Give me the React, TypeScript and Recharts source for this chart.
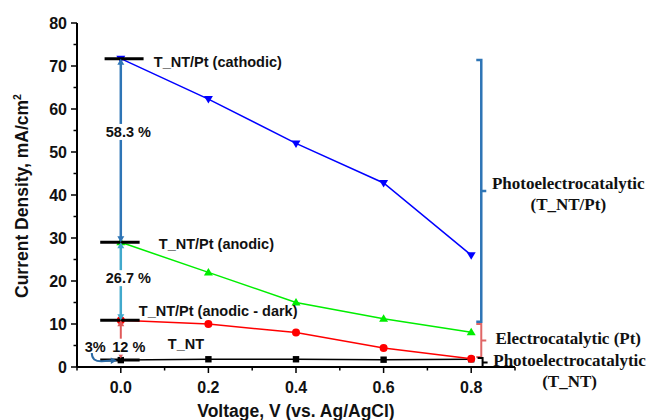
import React from 'react';
import { LineChart, Line, XAxis, YAxis, ReferenceLine, ReferenceDot, Label } from 'recharts';

// ---------- data ----------
const voltages = [0, 0.2, 0.4, 0.6, 0.8];
const cathodic = [71.7, 62.3, 52.0, 42.8, 26.0];
const anodic = [29.0, 22.0, 15.0, 11.2, 8.1];
const anodicDark = [10.9, 10.0, 8.0, 4.4, 1.9];
const tnt = [1.6, 1.8, 1.8, 1.7, 1.8];

const xTicks = [-0.1, 0, 0.1, 0.2, 0.3, 0.4, 0.5, 0.6, 0.7, 0.8, 0.9];
const xMajorTicks = [0, 0.2, 0.4, 0.6, 0.8];
const yTicks = [0, 5, 10, 15, 20, 25, 30, 35, 40, 45, 50, 55, 60, 65, 70, 75, 80];
const yMajorTicks = [0, 10, 20, 30, 40, 50, 60, 70, 80];

// annotation levels at V = 0.0
const levelCathodic = 71.7;
const levelAnodic = 29.0;
const levelDark = 10.9;
const levelTnt = 1.6;
const seriesLabels = ['T_NT/Pt (cathodic)', 'T_NT/Pt (anodic)', 'T_NT/Pt (anodic - dark)', 'T_NT'];
const percentLabels = ['58.3 %', '26.7 %', '12 %', '3%'];
const percentLevels = [53.5, 19.5, 3.56, 3.56];

// braces on the right
const braceX = 0.823;
const braceBlue = [71.4, 10.5];
const braceRed = [10.0, 2.3];
const braceBlack = [2.1, 0];
const braceTextBlue = ['Photoelectrocatalytic', '(T_NT/Pt)'];
const braceTextRed = ['Electrocatalytic (Pt)'];
const braceTextBlack = ['Photoelectrocatalytic', '(T_NT)'];

const rows = voltages.map((v, i) => ({
  v,
  cathodic: cathodic[i],
  anodic: anodic[i],
  dark: anodicDark[i],
  tnt: tnt[i],
}));

const SANS = 'Liberation Sans, Arial, sans-serif';
const SERIF = 'Liberation Serif, Times New Roman, serif';
const Z = 2000;

const isIn = (arr: number[], v: number) => arr.some((m) => Math.abs(m - v) < 1e-6);

const XTick = (p: any) => {
  const v = p.payload.value;
  const major = isIn(xMajorTicks, v);
  return (
    <g>
      <line x1={p.x} x2={p.x} y1={p.y} y2={p.y + (major ? 6 : 3.5)} stroke="#000" strokeWidth={1.5} />
      {major && (
        <text x={p.x} y={p.y + 26} textAnchor="middle" fontFamily={SANS} fontWeight="bold" fontSize={16} fill="#111">
          {v.toFixed(1)}
        </text>
      )}
    </g>
  );
};

const YTick = (p: any) => {
  const v = p.payload.value;
  const major = isIn(yMajorTicks, v);
  return (
    <g>
      <line x1={p.x} x2={p.x - (major ? 6 : 3.5)} y1={p.y} y2={p.y} stroke="#000" strokeWidth={1.5} />
      {major && (
        <text x={p.x - 10} y={p.y + 5.8} textAnchor="end" fontFamily={SANS} fontWeight="bold" fontSize={16} fill="#111">
          {v}
        </text>
      )}
    </g>
  );
};

const triDown = (color: string) => (p: any) => {
  const { cx, cy } = p;
  if (cx == null || cy == null) return <g key={p.index} />;
  return <path key={p.index} d={`M${cx - 4.5},${cy - 3} L${cx + 4.5},${cy - 3} L${cx},${cy + 4.5} Z`} fill={color} />;
};
const triUp = (color: string) => (p: any) => {
  const { cx, cy } = p;
  if (cx == null || cy == null) return <g key={p.index} />;
  return <path key={p.index} d={`M${cx - 4.5},${cy + 3} L${cx + 4.5},${cy + 3} L${cx},${cy - 4.5} Z`} fill={color} />;
};
const circ = (color: string) => (p: any) => {
  const { cx, cy } = p;
  if (cx == null || cy == null) return <g key={p.index} />;
  return <circle key={p.index} cx={cx} cy={cy} r={4} fill={color} />;
};
const square = (color: string) => (p: any) => {
  const { cx, cy } = p;
  if (cx == null || cy == null) return <g key={p.index} />;
  return <rect key={p.index} x={cx - 3.2} y={cy - 3.2} width={6.4} height={6.4} fill={color} />;
};

// double-headed vertical arrow
const arrowShape = (color: string, w: number) => (p: any) => {
  const { x1, y1, x2, y2 } = p;
  const top = Math.min(y1, y2);
  const bot = Math.max(y1, y2);
  const x = x1;
  const h = 6;
  const hw = 3.5;
  return (
    <g>
      <line x1={x} x2={x} y1={top + 2} y2={bot - 2} stroke={color} strokeWidth={w} />
      <path d={`M${x},${top} L${x - hw},${top + h} L${x + hw},${top + h} Z`} fill={color} />
      <path d={`M${x},${bot} L${x - hw},${bot - h} L${x + hw},${bot - h} Z`} fill={color} />
    </g>
  );
};

const braceShape = (color: string, w: number, lines: string[], textDy: number) => (p: any) => {
  const { x1, y1, y2 } = p;
  const top = Math.min(y1, y2);
  const bot = Math.max(y1, y2);
  const mid = (top + bot) / 2;
  const x = x1;
  return (
    <g>
      <path
        d={`M${x - 5},${top} L${x},${top} L${x},${bot} L${x - 5},${bot} M${x},${mid} L${x + 5},${mid}`}
        stroke={color}
        strokeWidth={w}
        fill="none"
      />
      {lines.map((t, i) => (
        <text
          key={i}
          x={x + 87}
          y={mid + textDy + i * 21.5}
          textAnchor="middle"
          fontFamily={SERIF}
          fontWeight="bold"
          fontSize={17}
          fill="#111"
        >
          {t}
        </text>
      ))}
    </g>
  );
};

const textShape = (text: string, dx: number, dy: number, bg: boolean, w = 0) => (p: any) => {
  const { cx, cy } = p;
  return (
    <g>
      {bg && <rect x={cx + dx - 2} y={cy + dy - 13} width={w} height={16} fill="#fff" />}
      <text x={cx + dx} y={cy + dy} fontFamily={SANS} fontWeight="bold" fontSize={14.5} fill="#111">
        {text}
      </text>
    </g>
  );
};

const curlShape = (p: any) => {
  const { cx, cy } = p;
  const ex = cx - 4;
  const ey = cy + 0.5;
  return (
    <g>
      <path
        d={`M${cx - 29},${cy - 7} Q${cx - 29},${cy + 1.5} ${cx - 19},${cy + 1.2} L${ex - 5},${ey}`}
        stroke="#2a6aa5"
        strokeWidth={2}
        fill="none"
      />
      <path d={`M${ex},${ey} L${ex - 6},${ey - 3} L${ex - 6},${ey + 3.5} Z`} fill="#2a6aa5" />
    </g>
  );
};

const YLabel = (p: any) => {
  const vb = p.viewBox || { x: 17, y: 23, width: 60, height: 344 };
  const x = vb.x + 11;
  const y = vb.y + vb.height / 2 + 1;
  return (
    <text
      x={x}
      y={y}
      transform={`rotate(-90, ${x}, ${y})`}
      textAnchor="middle"
      fontFamily={SANS}
      fontWeight="bold"
      fontSize={17.5}
      fill="#111"
    >
      Current Density, mA/cm
      <tspan dy={-7} fontSize={10.5}>
        2
      </tspan>
    </text>
  );
};

const XLabel = (p: any) => {
  const vb = p.viewBox || { x: 77, y: 367, width: 438, height: 53 };
  return (
    <text
      x={vb.x + vb.width / 2}
      y={vb.y + vb.height - 3.5}
      textAnchor="middle"
      fontFamily={SANS}
      fontWeight="bold"
      fontSize={17.5}
      fill="#111"
    >
      Voltage, V (vs. Ag/AgCl)
    </text>
  );
};

const barSeg = (y: number, a = -0.047, b = 0.043) => [
  { x: a, y },
  { x: b, y },
];

export default function App() {
  return (
    <div style={{ position: 'absolute', left: 0, top: 0, width: 650, height: 420, background: '#fff' }}>
      <LineChart
        width={650}
        height={420}
        data={rows}
        margin={{ top: 23, right: 135, left: 17, bottom: 0 }}
        style={{ fontFamily: SANS }}
      >
        <XAxis
          dataKey="v"
          type="number"
          domain={[-0.1, 0.9]}
          ticks={xTicks}
          interval={0}
          allowDataOverflow
          height={53}
          tickSize={0}
          tickMargin={0}
          tickLine={false}
          tick={<XTick />}
          axisLine={{ stroke: '#000', strokeWidth: 2 }}
        >
          <Label content={<XLabel />} />
        </XAxis>
        <YAxis
          type="number"
          domain={[0, 80]}
          ticks={yTicks}
          interval={0}
          allowDataOverflow
          width={60}
          tickSize={0}
          tickMargin={0}
          tickLine={false}
          tick={<YTick />}
          axisLine={{ stroke: '#000', strokeWidth: 2 }}
        >
          <Label content={<YLabel />} />
        </YAxis>

        <Line dataKey="tnt" stroke="#000" strokeWidth={1.5} dot={square('#000')} isAnimationActive={false} />
        <Line dataKey="dark" stroke="#ff0000" strokeWidth={1.5} dot={circ('#ff0000')} isAnimationActive={false} />
        <Line dataKey="anodic" stroke="#00ee00" strokeWidth={1.5} dot={triUp('#00ee00')} isAnimationActive={false} />
        <Line dataKey="cathodic" stroke="#0000ff" strokeWidth={1.5} dot={triDown('#0000ff')} isAnimationActive={false} />

        {/* black level bars */}
        <ReferenceLine zIndex={Z} segment={barSeg(levelCathodic, -0.037, 0.052)} stroke="#000" strokeWidth={3} />
        <ReferenceLine zIndex={Z} segment={barSeg(levelAnodic)} stroke="#000" strokeWidth={3} />
        <ReferenceLine zIndex={Z} segment={barSeg(levelDark)} stroke="#000" strokeWidth={3} />
        <ReferenceLine zIndex={Z} segment={barSeg(levelTnt)} stroke="#000" strokeWidth={3} />

        {/* vertical arrows */}
        <ReferenceLine
          zIndex={Z + 1}
          segment={[{ x: 0, y: levelCathodic }, { x: 0, y: levelAnodic }]}
          shape={arrowShape('#2e75b6', 2.5)}
        />
        <ReferenceLine
          zIndex={Z + 1}
          segment={[{ x: 0, y: levelAnodic }, { x: 0, y: levelDark }]}
          shape={arrowShape('#41a9cc', 2.5)}
        />
        <ReferenceLine
          zIndex={Z + 1}
          segment={[{ x: 0, y: levelDark }, { x: 0, y: levelTnt + 0.4 }]}
          shape={arrowShape('#e05a5a', 2)}
        />

        {/* percentages */}
        <ReferenceDot zIndex={Z + 2} x={0} y={percentLevels[0]} r={1} shape={textShape(percentLabels[0], -15, 0, true, 47)} />
        <ReferenceDot zIndex={Z + 2} x={0} y={percentLevels[1]} r={1} shape={textShape(percentLabels[1], -15, 0, true, 47)} />
        <ReferenceDot zIndex={Z + 2} x={0} y={percentLevels[2]} r={1} shape={textShape(percentLabels[2], -8.5, 0, true, 33)} />
        <ReferenceDot zIndex={Z + 2} x={0} y={percentLevels[3]} r={1} shape={textShape(percentLabels[3], -36, 0, false)} />
        <ReferenceDot zIndex={Z + 2} x={0} y={levelTnt} r={1} shape={curlShape} />

        {/* series labels */}
        <ReferenceDot zIndex={Z + 2} x={0} y={levelCathodic} r={1} shape={textShape(seriesLabels[0], 33, 8.8, false)} />
        <ReferenceDot zIndex={Z + 2} x={0} y={levelAnodic} r={1} shape={textShape(seriesLabels[1], 38, 6.2, false)} />
        <ReferenceDot zIndex={Z + 2} x={0} y={levelDark} r={1} shape={textShape(seriesLabels[2], 18, -4.5, false)} />
        <ReferenceDot zIndex={Z + 2} x={0} y={levelTnt} r={1} shape={textShape(seriesLabels[3], 47, -11, false)} />

        {/* braces */}
        <ReferenceLine
          zIndex={Z}
          segment={[{ x: braceX, y: braceBlue[0] }, { x: braceX, y: braceBlue[1] }]}
          shape={braceShape('#2e75b6', 2.5, braceTextBlue, -2)}
        />
        <ReferenceLine
          zIndex={Z}
          segment={[{ x: braceX, y: braceRed[0] }, { x: braceX, y: braceRed[1] }]}
          shape={braceShape('#e06666', 2, braceTextRed, 3.5)}
        />
        <ReferenceLine
          zIndex={Z}
          segment={[{ x: braceX + 0.003, y: braceBlack[0] }, { x: braceX + 0.003, y: braceBlack[1] }]}
          shape={braceShape('#000', 2, braceTextBlack, 3.2)}
        />
      </LineChart>
    </div>
  );
}
